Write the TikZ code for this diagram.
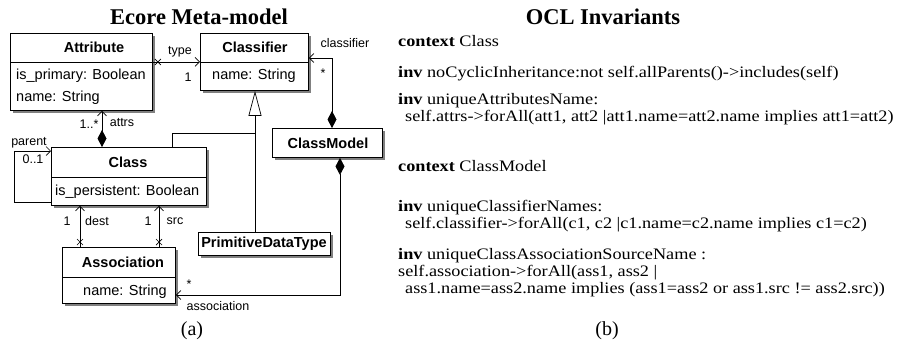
\documentclass[tikz,border=0pt]{standalone}
\usepackage{fontspec}
\setmainfont{Liberation Serif}
\setsansfont{Liberation Sans}
\usetikzlibrary{arrows.meta,shadows,calc}
\newcommand{\wideline}[1]{\scalebox{1.14}[1]{#1}}
\tikzset{
  umlbox/.style={draw, fill=white, line width=0.9pt, anchor=north west, inner sep=0pt,
    drop shadow={shadow xshift=2.5pt, shadow yshift=-2.5pt, fill=black!50, opacity=1}},
  sepline/.style={line width=0.9pt},
  hdr/.style={font=\sffamily\bfseries\fontsize{14.5}{17}\selectfont, inner sep=0pt},
  attrtxt/.style={font=\sffamily\fontsize{14.5}{17}\selectfont, inner sep=0pt, anchor=west},
  lbl/.style={font=\sffamily\fontsize{12.5}{14}\selectfont, inner sep=0pt},
  conn/.style={line width=0.7pt, >={Straight Barb[length=4.5pt,width=9pt]}},
  title/.style={font=\bfseries\fontsize{22.5}{25}\selectfont, inner sep=0pt},
  ocl/.style={font=\fontsize{16}{18}\selectfont, inner sep=0pt, anchor=base west},
  captxt/.style={font=\fontsize{20}{22}\selectfont, inner sep=0pt},
  xmark/.pic={\draw[line width=0.7pt] (-3,-3)--(3,3) (-3,3)--(3,-3);}
}
\begin{document}
\begin{tikzpicture}[x=1pt,y=-1pt]
\useasboundingbox (0,0) rectangle (909,345);

% titles
\node[title] (t1) at (199,17) {Ecore Meta-model};
\node[title] (t2) at (603,17) {OCL Invariants};

% Attribute
\node[umlbox, minimum width=142pt, minimum height=77pt] (attr) at (10,33) {};
\draw[sepline] (10,62) -- (152,62);
\node[hdr] (attrT) at (94,47) {Attribute};
\node[attrtxt] (attrA1) at (16,76) {is\_primary: Boolean};
\node[attrtxt] (attrA2) at (16,98) {name: String};

% Classifier
\node[umlbox, minimum width=108pt, minimum height=57pt] (clsf) at (200,33) {};
\draw[sepline] (200,62) -- (308,62);
\node[hdr] (clsfT) at (255,47) {Classifier};
\node[attrtxt] (clsfA1) at (212,76) {name: String};

% Class
\node[umlbox, minimum width=155pt, minimum height=58pt] (class) at (51,147) {};
\draw[sepline] (51,177) -- (206,177);
\node[hdr] (classT) at (128,162) {Class};
\node[attrtxt] (classA1) at (55,192) {is\_persistent: Boolean};

% Association
\node[umlbox, minimum width=113pt, minimum height=56pt] (assoc) at (62,247) {};
\draw[sepline] (62,277) -- (175,277);
\node[hdr] (assocT) at (123,262) {Association};
\node[attrtxt] (assocA1) at (83,292) {name: String};

% ClassModel
\node[umlbox, minimum width=110pt, minimum height=29pt] (cm) at (272,128) {};
\node[hdr] (cmT) at (328,143) {ClassModel};

% PrimitiveDataType
\node[umlbox, minimum width=132pt, minimum height=23pt] (pdt) at (198,232) {};
\node[hdr] (pdtT) at (264,244) {PrimitiveDataType};

% coordinates
\coordinate (ax) at (102,0);
\coordinate (c1) at (332,58);
\coordinate (g1) at (255,133);
\coordinate (gx) at (172,133);
\coordinate (p1) at (14,151);
\coordinate (p2) at (14,202);
\coordinate (dx) at (80,0);
\coordinate (sx) at (159,0);
\coordinate (m1) at (340,295);

% type
\draw[conn,->] (attr.east |- clsf.west) -- (clsf.west);
\pic at ($(attr.east |- clsf.west)+(5,0)$) {xmark};
\node[lbl] (typeL) at (180,52) {type};
\node[lbl] (typeM) at (188,77) {1};

% classifier
\draw[conn,{Diamond[length=17pt,width=9pt]}->] (cm.north -| c1) -- (c1) -- (clsf.east |- c1);
\node[lbl] (clsfL) at (345,43) {classifier};
\node[lbl] (clsfM) at (323,73) {*};

% generalization
\draw[conn,-{Triangle[open,length=25pt,width=13pt]}] (class.north -| gx) -- (gx) -- (g1) -- (clsf.south -| g1);
\draw[conn] (pdt.north -| g1) -- (g1);

% attrs composition
\draw[conn,{Diamond[length=17pt,width=9pt]}->] (class.north -| ax) -- (attr.south -| ax);
\node[lbl] (attrsM) at (89,124) {1..*};
\node[lbl] (attrsL) at (122,123) {attrs};

% parent
\draw[conn,->] (class.west |- p2) -- (p2) -- (p1) -- (class.west |- p1);
\node[lbl] (parL) at (29,143) {parent};
\node[lbl] (parM) at (33,159) {0..1};

% dest / src
\draw[conn,->] (assoc.north -| dx) -- (class.south -| dx);
\pic at ($(assoc.north -| dx)+(0,-5)$) {xmark};
\draw[conn,->] (assoc.north -| sx) -- (class.south -| sx);
\pic at ($(assoc.north -| sx)+(0,-5)$) {xmark};
\node[lbl] (destM) at (67,221) {1};
\node[lbl] (destL) at (97,221) {dest};
\node[lbl] (srcM) at (148,221) {1};
\node[lbl] (srcL) at (175,221) {src};

% association
\draw[conn,{Diamond[length=17pt,width=9pt]}->] (cm.south -| m1) -- (m1) -- (assoc.east |- m1);
\node[lbl] (asM) at (189,284) {*};
\node[lbl] (asL) at (218,306) {association};

\node[captxt] (capa) at (192,331) {(a)};

% OCL text
\node[ocl] (l1) at (398,47) {\wideline{\textbf{context} Class}};
\node[ocl] (l2) at (398,77) {\wideline{\textbf{inv} noCyclicInheritance:not self.allParents()->includes(self)}};
\node[ocl] (l3) at (398,104) {\wideline{\textbf{inv} uniqueAttributesName:}};
\node[ocl] (l4) at (405,121) {\wideline{self.attrs->forAll(att1, att2 |att1.name=att2.name implies att1=att2)}};
\node[ocl] (l5) at (398,171) {\wideline{\textbf{context} ClassModel}};
\node[ocl] (l6) at (398,211) {\wideline{\textbf{inv} uniqueClassifierNames:}};
\node[ocl] (l7) at (405,228) {\wideline{self.classifier->forAll(c1, c2 |c1.name=c2.name implies c1=c2)}};
\node[ocl] (l8) at (398,259) {\wideline{\textbf{inv} uniqueClassAssociationSourceName :}};
\node[ocl] (l9) at (398,276) {\wideline{self.association->forAll(ass1, ass2 |}};
\node[ocl] (l10) at (405,293) {\wideline{ass1.name=ass2.name implies (ass1=ass2 or ass1.src != ass2.src))}};

\node[captxt] (capb) at (607,331) {(b)};
\end{tikzpicture}
\end{document}
